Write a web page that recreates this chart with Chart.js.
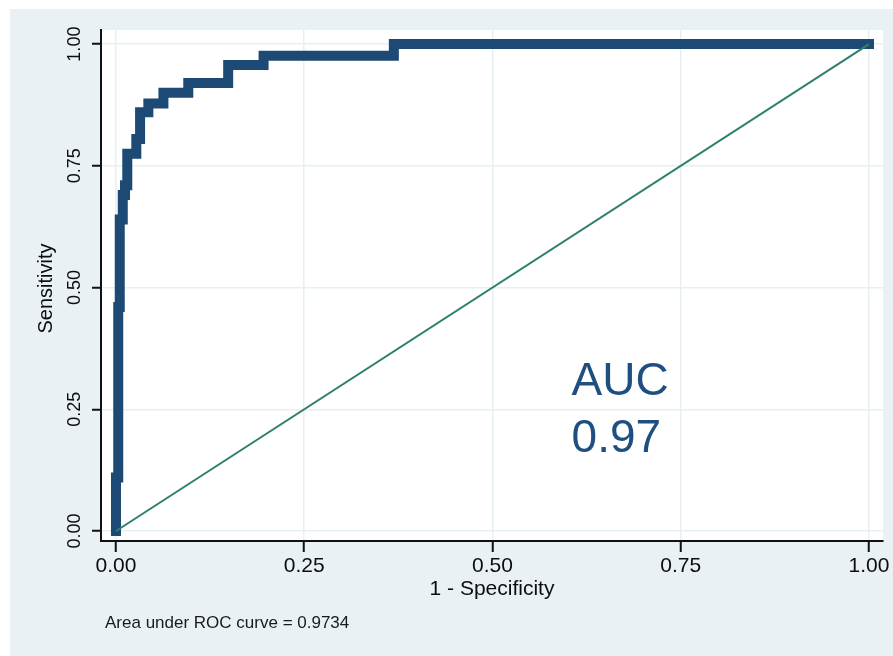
<!DOCTYPE html>
<html>
<head>
<meta charset="utf-8">
<script src="https://cdn.jsdelivr.net/npm/chart.js@4"></script>
<style>
  html, body { margin: 0; padding: 0; background: #ffffff; }
  canvas { display: block; }
</style>
</head>
<body>
<canvas id="c" width="893" height="656"></canvas>
<script>
// ---- data ----
const rocFpr = [0, 0, 0.003, 0.003, 0.005, 0.005, 0.009, 0.009, 0.012, 0.012, 0.015, 0.015, 0.027, 0.027, 0.032, 0.032, 0.043, 0.043, 0.063, 0.063, 0.096, 0.096, 0.149, 0.149, 0.196, 0.196, 0.369, 0.369, 1.0];
const rocTpr = [0, 0.11, 0.11, 0.46, 0.46, 0.64, 0.64, 0.69, 0.69, 0.71, 0.71, 0.775, 0.775, 0.805, 0.805, 0.86, 0.86, 0.878, 0.878, 0.90, 0.90, 0.92, 0.92, 0.957, 0.957, 0.976, 0.976, 1.0, 1.0];
const refX = [0, 1];
const refY = [0, 1];
const xTicks = [0, 0.25, 0.5, 0.75, 1];
const yTicks = [0, 0.25, 0.5, 0.75, 1];
const xTitle = '1 - Specificity';
const yTitle = 'Sensitivity';
const noteText = 'Area under ROC curve = 0.9734';
const aucLines = ['AUC', '0.97'];

const FONT = "'Liberation Sans', Arial, Helvetica, sans-serif";
const toPts = (xs, ys) => xs.map((x, i) => ({ x: x, y: ys[i] }));

const decor = {
  id: 'decor',
  beforeDraw(chart) {
    const ctx = chart.ctx, a = chart.chartArea;
    ctx.save();
    ctx.fillStyle = '#ffffff';
    ctx.fillRect(0, 0, chart.width, chart.height);
    ctx.fillStyle = '#e9f1f4';
    ctx.fillRect(10, 9, chart.width - 10, chart.height - 9);
    ctx.fillStyle = '#ffffff';
    ctx.fillRect(a.left, a.top, a.right - a.left, a.bottom - a.top);
    ctx.restore();
  },
  afterDraw(chart) {
    const ctx = chart.ctx, a = chart.chartArea;
    const xs = chart.scales.x, ys = chart.scales.y;
    ctx.save();
    ctx.fillStyle = '#0d0d0d';
    // y tick labels (rotated)
    ctx.font = '18px ' + FONT;
    ctx.textAlign = 'center';
    ctx.textBaseline = 'alphabetic';
    yTicks.forEach(v => {
      ctx.save();
      ctx.translate(a.left - 21, ys.getPixelForValue(v));
      ctx.rotate(-Math.PI / 2);
      ctx.fillText(v.toFixed(2), 0, 0);
      ctx.restore();
    });
    // y title
    ctx.font = '20px ' + FONT;
    ctx.save();
    ctx.translate(a.left - 49, (a.top + a.bottom) / 2 + 3);
    ctx.rotate(-Math.PI / 2);
    ctx.fillText(yTitle, 0, 0);
    ctx.restore();
    // x title
    ctx.font = '21px ' + FONT;
    ctx.fillText(xTitle, (a.left + a.right) / 2, a.bottom + 54);
    // note
    ctx.font = '17px ' + FONT;
    ctx.textAlign = 'left';
    ctx.fillStyle = '#1a1a1a';
    ctx.fillText(noteText, 105, a.bottom + 87);
    // AUC annotation
    ctx.font = '46px ' + FONT;
    ctx.fillStyle = '#1f4e80';
    ctx.fillText(aucLines[0], xs.getPixelForValue(0.605), ys.getPixelForValue(0.279));
    ctx.fillText(aucLines[1], xs.getPixelForValue(0.605), ys.getPixelForValue(0.162));
    ctx.restore();
  }
};

const setTicks = vals => axis => { axis.ticks = vals.map(v => ({ value: v })); };

new Chart(document.getElementById('c'), {
  type: 'scatter',
  data: {
    datasets: [
      {
        label: 'Reference',
        data: toPts(refX, refY),
        showLine: true,
        borderColor: '#2f7f6e',
        borderWidth: 2,
        pointRadius: 0,
        fill: false
      },
      {
        label: 'ROC',
        data: toPts(rocFpr, rocTpr),
        showLine: true,
        borderColor: '#1c4a74',
        borderWidth: 10,
        borderJoinStyle: 'miter',
        borderCapStyle: 'square',
        pointRadius: 0,
        fill: false,
        tension: 0
      }
    ]
  },
  options: {
    responsive: false,
    animation: false,
    devicePixelRatio: 1,
    clip: false,
    layout: { padding: { left: 10, right: 10, top: 30, bottom: 0 } },
    plugins: { legend: { display: false }, tooltip: { enabled: false } },
    scales: {
      x: {
        type: 'linear',
        min: -0.0199,
        max: 1.0186,
        afterBuildTicks: setTicks(xTicks),
        afterFit: s => { s.height = 115; },
        grid: { color: '#e6eff2', lineWidth: 1.5, tickColor: '#111111', tickWidth: 2, tickLength: 11 },
        border: { display: true, color: '#111111', width: 2 },
        ticks: {
          color: '#0d0d0d',
          padding: 2,
          maxRotation: 0,
          font: { family: FONT, size: 21 },
          callback: v => Number(v).toFixed(2)
        }
      },
      y: {
        type: 'linear',
        min: -0.0205,
        max: 1.029,
        afterBuildTicks: setTicks(yTicks),
        afterFit: s => { s.width = 91; },
        grid: { color: '#e6eff2', lineWidth: 1.5, tickColor: '#111111', tickWidth: 2, tickLength: 9 },
        border: { display: true, color: '#111111', width: 2 },
        ticks: { display: false }
      }
    }
  },
  plugins: [decor]
});
</script>
</body>
</html>
